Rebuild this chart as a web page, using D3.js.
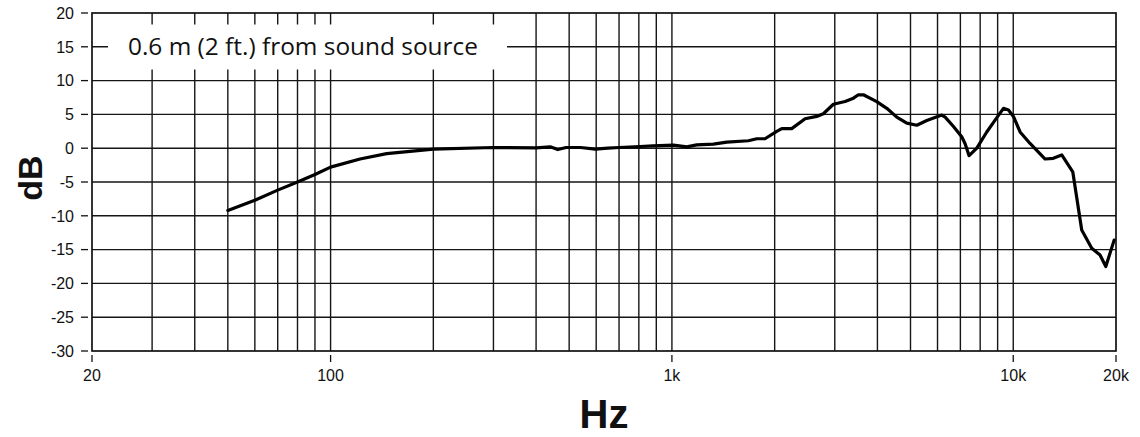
<!DOCTYPE html>
<html>
<head>
<meta charset="utf-8">
<script src="https://cdn.jsdelivr.net/npm/d3@7"></script>
<style>
  html, body { margin: 0; padding: 0; background: #fff; }
  svg { display: block; }
</style>
</head>
<body>
<svg id="chart" width="1140" height="437"></svg>
<script>
// ---- data ----
const freqs = [50, 60, 70, 80, 90, 100, 122, 146, 200, 300, 400, 440, 463, 490, 540, 596, 650, 700, 806, 880,
  1010, 1106, 1182, 1323, 1448, 1675, 1772, 1874, 2028, 2098, 2244, 2456, 2656, 2778, 2972, 3216, 3402, 3518,
  3639, 3981, 4261, 4558, 4876, 5216, 5581, 6176, 6316, 6681, 7064, 7223, 7424, 7820, 8363, 8846, 9360, 9683,
  10012, 10472, 11200, 12400, 13100, 13870, 14940, 15870, 16980, 17960, 18670, 19750];
const dbValues = [-9.2, -7.7, -6.2, -5.0, -3.9, -2.8, -1.6, -0.8, -0.15, 0.1, 0.05, 0.2, -0.2, 0.1, 0.1, -0.15, 0.0, 0.1, 0.25, 0.35,
  0.45, 0.2, 0.5, 0.6, 0.9, 1.1, 1.4, 1.4, 2.5, 2.9, 2.9, 4.35, 4.7, 5.1, 6.5, 6.9, 7.4, 7.9,
  7.9, 6.9, 5.9, 4.6, 3.7, 3.4, 4.1, 4.9, 4.6, 3.2, 1.7, 0.7, -1.1, 0.0, 2.4, 4.15, 5.9, 5.65,
  4.7, 2.4, 0.7, -1.6, -1.5, -1.0, -3.5, -12.1, -14.8, -15.8, -17.5, -13.6];
const yTicks = [20, 15, 10, 5, 0, -5, -10, -15, -20, -25, -30];
const xTickValues = [20, 100, 1000, 10000, 20000];
const xTickLabels = ["20", "100", "1k", "10k", "20k"];
const xGridValues = [30, 40, 50, 60, 70, 80, 90, 100, 200, 300, 400, 500, 600, 700, 800, 900,
  1000, 2000, 3000, 4000, 5000, 6000, 7000, 8000, 9000, 10000];
const noteText = "0.6 m (2 ft.) from sound source";
const xTitle = "Hz";
const yTitle = "dB";

// ---- layout ----
const L = 92, R = 1116, T = 13, B = 351;
const svg = d3.select("#chart");
const x = d3.scaleLog().domain([20, 20000]).range([L, R]);
const y = d3.scaleLinear().domain([-30, 20]).range([B, T]);

const gridColor = "#151515";

// horizontal grid
svg.append("g").selectAll("line").data(yTicks.filter(d => d > -30 && d < 20)).join("line")
  .attr("x1", L).attr("x2", R).attr("y1", d => y(d)).attr("y2", d => y(d))
  .attr("stroke", gridColor).attr("stroke-width", 1.4);

// vertical grid
svg.append("g").selectAll("line").data(xGridValues).join("line")
  .attr("x1", d => x(d)).attr("x2", d => x(d)).attr("y1", T).attr("y2", B)
  .attr("stroke", gridColor).attr("stroke-width", 1.4);

// white box behind note
svg.append("rect").attr("x", 108).attr("y", 24.5).attr("width", 399).attr("height", 45)
  .attr("fill", "#fff");

// frame
svg.append("rect").attr("x", L).attr("y", T).attr("width", R - L).attr("height", B - T)
  .attr("fill", "none").attr("stroke", "#111").attr("stroke-width", 1.7);

// y axis ticks + labels
const ya = svg.append("g");
ya.selectAll("line").data(yTicks).join("line")
  .attr("x1", 81).attr("x2", 88).attr("y1", d => y(d)).attr("y2", d => y(d))
  .attr("stroke", "#111").attr("stroke-width", 1.3);
ya.selectAll("text").data(yTicks).join("text")
  .attr("x", 74).attr("y", d => y(d)).attr("dy", "0.36em")
  .attr("text-anchor", "end")
  .attr("font-family", "Liberation Sans, Arial, sans-serif").attr("font-size", 16)
  .attr("fill", "#111").text(d => d);

// x axis ticks + labels
const xa = svg.append("g");
xa.selectAll("line").data(xTickValues).join("line")
  .attr("x1", d => x(d)).attr("x2", d => x(d)).attr("y1", 355).attr("y2", 362)
  .attr("stroke", "#111").attr("stroke-width", 1.3);
xa.selectAll("text").data(xTickValues).join("text")
  .attr("x", d => x(d)).attr("y", 381)
  .attr("text-anchor", "middle")
  .attr("font-family", "Liberation Sans, Arial, sans-serif").attr("font-size", 16)
  .attr("fill", "#111").text((d, i) => xTickLabels[i]);

// note
const note = svg.append("text").attr("x", 128).attr("y", 55)
  .attr("font-family", "Open Sans, Noto Sans, sans-serif").attr("font-size", 24)
  .attr("fill", "#111").text(noteText);
const w = note.node().getComputedTextLength();
note.attr("font-size", 24 * 350 / w);

// titles
svg.append("text").attr("x", 604).attr("y", 428).attr("text-anchor", "middle")
  .attr("font-family", "Liberation Sans, Arial, sans-serif").attr("font-weight", "bold")
  .attr("font-size", 40).attr("fill", "#111").text(xTitle);
svg.append("text").attr("transform", "translate(42,178) rotate(-90)").attr("text-anchor", "middle")
  .attr("font-family", "Liberation Sans, Arial, sans-serif").attr("font-weight", "bold")
  .attr("font-size", 34).attr("fill", "#111").text(yTitle);

// curve
const line = d3.line().x(d => x(d[0])).y(d => y(d[1])).curve(d3.curveLinear);
svg.append("path").datum(freqs.map((f, i) => [f, dbValues[i]]))
  .attr("d", line).attr("fill", "none").attr("stroke", "#000")
  .attr("stroke-width", 3.2).attr("stroke-linejoin", "round").attr("stroke-linecap", "round");
</script>
</body>
</html>
